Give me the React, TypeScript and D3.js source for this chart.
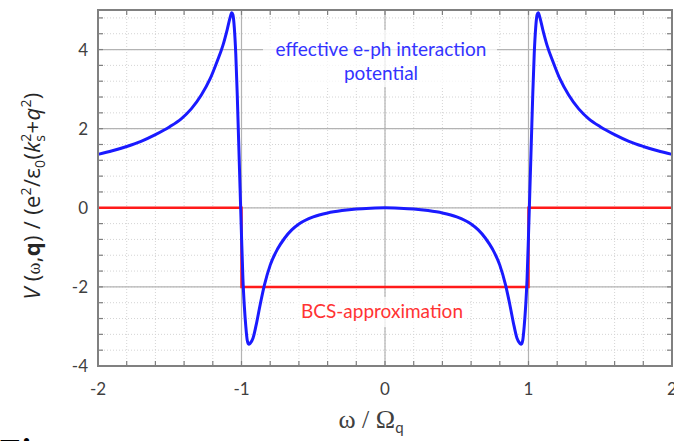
import React from 'react';
import * as d3 from 'd3';

// frequency axis, omega / Omega_q
const omega = [
  -2.0, -1.9, -1.8, -1.7, -1.6, -1.5, -1.42, -1.35, -1.28, -1.22, -1.17, -1.13, -1.1, -1.08,
  -1.068, -1.06, -1.05, -1.04, -1.03, -1.02, -1.01, -1.0, -0.99, -0.98, -0.97, -0.96, -0.95,
  -0.94, -0.92, -0.9, -0.87, -0.84, -0.8, -0.75, -0.7, -0.65, -0.6, -0.5, -0.4, -0.3, -0.2, -0.1,
  0,
  0.1, 0.2, 0.3, 0.4, 0.5, 0.6, 0.65, 0.7, 0.75, 0.8, 0.84, 0.87, 0.9, 0.92, 0.94, 0.95, 0.96,
  0.97, 0.98, 0.99, 1.0, 1.01, 1.02, 1.03, 1.04, 1.05, 1.06, 1.068, 1.08, 1.1, 1.13, 1.17, 1.22,
  1.28, 1.35, 1.42, 1.5, 1.6, 1.7, 1.8, 1.9, 2.0
];
// effective e-ph interaction potential
const vEff = [
  1.35, 1.44, 1.55, 1.68, 1.85, 2.05, 2.25, 2.5, 2.85, 3.25, 3.7, 4.1, 4.5, 4.8,
  4.93, 4.88, 4.55, 3.9, 2.9, 1.7, 0.5, -0.7, -1.8, -2.5, -3.0, -3.35, -3.45,
  -3.43, -3.3, -3.0, -2.45, -1.95, -1.45, -1.05, -0.77, -0.56, -0.41, -0.23, -0.13, -0.07, -0.03, -0.01,
  0,
  -0.01, -0.03, -0.07, -0.13, -0.23, -0.41, -0.56, -0.77, -1.05, -1.45, -1.95, -2.45, -3.0, -3.3, -3.43, -3.45, -3.35,
  -3.0, -2.5, -1.8, -0.7, 0.5, 1.7, 2.9, 3.9, 4.55, 4.88, 4.93, 4.8, 4.5, 4.1, 3.7, 3.25,
  2.85, 2.5, 2.25, 2.05, 1.85, 1.68, 1.55, 1.44, 1.35
];
// BCS approximation (step)
const bcsOmega = [-2, -1, -1, 1, 1, 2];
const bcsV = [0, 0, -2, -2, 0, 0];

const xTicks = [-2, -1, 0, 1, 2];
const yTicks = [-4, -2, 0, 2, 4];

const W = 674, H = 441;
const FONT = 'Lato, "Open Sans", sans-serif';
const SERIF = '"Liberation Serif", serif';

export default function App() {
  const x = d3.scaleLinear().domain([-2, 2]).range([98, 672]);
  const y = d3.scaleLinear().domain([-4, 5]).range([366, 10]);

  const line = d3.line<[number, number]>()
    .x(d => x(d[0]))
    .y(d => y(d[1]));

  const blue = line.curve(d3.curveMonotoneX)(omega.map((w, i) => [w, vEff[i]]));
  const red = d3.line<[number, number]>().x(d => x(d[0])).y(d => y(d[1]))(
    bcsOmega.map((w, i) => [w, bcsV[i]]));

  const xMinor = d3.range(-2, 2.001, 0.2);
  const yMinor = d3.range(-4, 4.9, 0.4);
  const [x0, x1] = x.range();
  const [y0, y1] = y.range();

  return (
    <svg width={W} height={H} style={{ position: 'absolute', left: 0, top: 0, background: '#fff' }}>
      {/* minor dotted grid */}
      {xMinor.map((t, i) => (
        <line key={'xm' + i} x1={x(t)} x2={x(t)} y1={y1} y2={y0} stroke="#d4d4d4" strokeDasharray="1,2" />
      ))}
      {yMinor.map((t, i) => (
        <line key={'ym' + i} x1={x0} x2={x1} y1={y(t)} y2={y(t)} stroke="#d4d4d4" strokeDasharray="1,2" />
      ))}
      {/* major grid */}
      {xTicks.map(t => (
        <line key={'xg' + t} x1={x(t)} x2={x(t)} y1={y1} y2={y0} stroke="#b3b3b3" strokeWidth={1.2} />
      ))}
      {yTicks.map(t => (
        <line key={'yg' + t} x1={x0} x2={x1} y1={y(t)} y2={y(t)} stroke="#b3b3b3" strokeWidth={1.2} />
      ))}

      {/* label boxes */}
      <rect x={263} y={30} width={234} height={57} fill="#fff" opacity={0.75} />
      <rect x={295} y={297} width={172} height={30} fill="#fff" opacity={0.75} />

      {/* ticks, inward */}
      {xMinor.map((t, i) => (
        <g key={'xt' + i}>
          <line x1={x(t)} x2={x(t)} y1={y0} y2={y0 - 5} stroke="#7f7f7f" strokeWidth={1.2} />
          <line x1={x(t)} x2={x(t)} y1={y1} y2={y1 + 5} stroke="#7f7f7f" strokeWidth={1.2} />
        </g>
      ))}
      {yMinor.map((t, i) => (
        <g key={'yt' + i}>
          <line x1={x0} x2={x0 + 5} y1={y(t)} y2={y(t)} stroke="#7f7f7f" strokeWidth={1.2} />
          <line x1={x1} x2={x1 - 5} y1={y(t)} y2={y(t)} stroke="#7f7f7f" strokeWidth={1.2} />
        </g>
      ))}

      {/* series */}
      <path d={red || ''} fill="none" stroke="#ff1a1a" strokeWidth={2.5} />
      <path d={blue || ''} fill="none" stroke="#1a1aff" strokeWidth={3} strokeLinejoin="round" />

      {/* frame */}
      <rect x={x0} y={y1} width={x1 - x0} height={y0 - y1} fill="none" stroke="#808080" strokeWidth={2} />

      {/* tick labels */}
      {xTicks.map(t => (
        <text key={'xl' + t} x={x(t)} y={395} textAnchor="middle" fontFamily={FONT} fontSize={17} fill="#404040">{t}</text>
      ))}
      {yTicks.map(t => (
        <text key={'yl' + t} x={88} y={y(t) + 6} textAnchor="end" fontFamily={FONT} fontSize={17} fill="#404040">{t}</text>
      ))}

      {/* annotations */}
      <text x={381} y={56} textAnchor="middle" fontFamily={FONT} fontSize={19} fill="#3333ff">effective e-ph interaction</text>
      <text x={381} y={80} textAnchor="middle" fontFamily={FONT} fontSize={19} fill="#3333ff">potential</text>
      <text x={382} y={318} textAnchor="middle" fontFamily={FONT} fontSize={19} fill="#ff3333">BCS-approximation</text>

      {/* axis titles */}
      <text x={371} y={428} textAnchor="middle" fontFamily={SERIF} fontSize={26} fill="#404040">
        <tspan>{'ω / Ω'}</tspan><tspan dy={5} fontSize={15} fontFamily={FONT}>q</tspan>
      </text>
      <text transform="translate(40,196) rotate(-90)" textAnchor="middle" fontFamily='"Open Sans", sans-serif' fontSize={22} letterSpacing={0.3} fill="#262626">
        <tspan fontStyle="italic">V</tspan>
        <tspan>{'\u00a0('}</tspan>
        <tspan fontFamily={SERIF} fontSize={18}>ω</tspan>
        <tspan>,</tspan>
        <tspan fontWeight="bold">q</tspan>
        <tspan>{') / (e'}</tspan>
        <tspan dy={-9} fontSize={14}>2</tspan>
        <tspan dy={9}>/ε</tspan>
        <tspan dy={5} fontSize={14}>0</tspan>
        <tspan dy={-5}>(</tspan>
        <tspan fontStyle="italic">k</tspan>
        <tspan dy={5} fontSize={14}>s</tspan>
        <tspan dx={-7} dy={-14} fontSize={14}>2</tspan>
        <tspan dy={9}>+</tspan>
        <tspan fontStyle="italic">q</tspan>
        <tspan dy={-9} fontSize={14}>2</tspan>
        <tspan dy={9}>)</tspan>
      </text>

      {/* cropped caption at the bottom edge */}
      <text x={-3} y={462} fontFamily={SERIF} fontStyle="italic" fontWeight="bold" fontSize={34} fill="#000">Fig.</text>
    </svg>
  );
}
